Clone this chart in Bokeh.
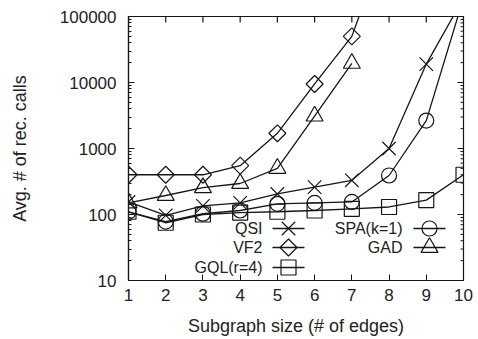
import math
import numpy as np
from bokeh.plotting import figure
from bokeh.models import Range1d, FixedTicker
from bokeh.embed import file_html
from bokeh.resources import INLINE
from bokeh.core.properties import value

# ---------------- data ----------------
sizes = [1, 2, 3, 4, 5, 6, 7, 8, 9, 10]
qsi = [155, 97, 135, 150, 205, 260, 330, 1000, 19000, 190000]
vf2 = [400, 400, 400, 550, 1700, 9500, 50000, 1800000, None, None]
gql = [110, 75, 100, 107, 110, 115, 122, 130, 165, 400]
spa = [110, 78, 103, 115, 145, 150, 155, 390, 2650, 190000]
gad = [150, 194, 255, 295, 500, 3100, 19500, None, None, None]

series_names = ["QSI", "VF2", "GQL(r=4)", "SPA(k=1)", "GAD"]
x_ticks = [1, 2, 3, 4, 5, 6, 7, 8, 9, 10]
y_ticks = [10, 100, 1000, 10000, 100000]
y_tick_labels = ["10", "100", "1000", "10000", "100000"]
x_label = "Subgraph size (# of edges)"
y_label = "Avg. # of rec. calls"

# ---------------- styling ----------------
FONT = "Liberation Sans"
INK = "#161616"
TXT = "#222222"
X0, X1 = 1, 10
Y0, Y1 = 10, 100000
FRAME_L, FRAME_R, FRAME_T, FRAME_B = 128, 463, 16, 280
W, H = 478, 339
MAJ, MIN = 6, 3

p = figure(width=W, height=H, y_axis_type="log",
           x_range=Range1d(X0, X1), y_range=Range1d(Y0, Y1),
           output_backend="svg", toolbar_location=None,
           min_border_left=FRAME_L, min_border_right=W - FRAME_R,
           min_border_top=FRAME_T, min_border_bottom=H - FRAME_B)
p.grid.visible = False
p.outline_line_color = INK
p.outline_line_width = 1.2
p.background_fill_color = "white"
p.border_fill_color = "white"

y_minor = [t * m for t in y_ticks[:-1] for m in range(2, 10)]


def style_axis(ax):
    ax.axis_line_color = INK
    ax.axis_line_width = 1.2
    ax.major_tick_line_color = INK
    ax.minor_tick_line_color = INK
    ax.major_tick_in = MAJ
    ax.major_tick_out = 0
    ax.minor_tick_in = MIN
    ax.minor_tick_out = 0
    ax.major_label_text_font = FONT
    ax.major_label_text_color = TXT
    ax.major_label_text_font_size = "17px"
    ax.axis_label_text_font = FONT
    ax.axis_label_text_color = TXT
    ax.axis_label_text_font_style = "normal"
    ax.axis_label_text_font_size = "18px"


# bottom x axis
xa = p.xaxis[0]
xa.ticker = FixedTicker(ticks=x_ticks, minor_ticks=[])
style_axis(xa)
xa.axis_label = x_label
xa.major_label_standoff = 8
xa.axis_label_standoff = 12

# left y axis
ya = p.yaxis[0]
ya.ticker = FixedTicker(ticks=y_ticks, minor_ticks=y_minor)
style_axis(ya)
ya.major_label_overrides = {t: s for t, s in zip(y_ticks, y_tick_labels)}
ya.axis_label = y_label
ya.major_label_standoff = 12
ya.axis_label_standoff = 27


def fx(px):
    return X0 + (px - FRAME_L) / (FRAME_R - FRAME_L) * (X1 - X0)


def fy(py):
    l0, l1 = math.log10(Y0), math.log10(Y1)
    return 10 ** (l0 + (FRAME_B - py) / (FRAME_B - FRAME_T) * (l1 - l0))


# mirrored (inward) ticks on the top and right edges, as gnuplot draws them
p.segment(x0=x_ticks, y0=[fy(FRAME_T)] * len(x_ticks),
          x1=x_ticks, y1=[fy(FRAME_T + MAJ)] * len(x_ticks),
          line_color=INK, line_width=1.2)
p.segment(x0=[fx(FRAME_R - MAJ)] * len(y_ticks), y0=y_ticks,
          x1=[fx(FRAME_R)] * len(y_ticks), y1=y_ticks,
          line_color=INK, line_width=1.2)
p.segment(x0=[fx(FRAME_R - MIN)] * len(y_minor), y0=y_minor,
          x1=[fx(FRAME_R)] * len(y_minor), y1=y_minor,
          line_color=INK, line_width=1.0)

# ---------------- series ----------------
marker_style = {
    "QSI": dict(marker="x", size=19, angle=0.0),
    "VF2": dict(marker="square", size=12, angle=math.pi / 4),
    "GQL(r=4)": dict(marker="square", size=15, angle=0.0),
    "SPA(k=1)": dict(marker="circle", size=15, angle=0.0),
    "GAD": dict(marker="triangle", size=17, angle=0.0),
}
series_values = [qsi, vf2, gql, spa, gad]

for name, vals in zip(series_names, series_values):
    arr = np.array([np.nan if v is None else v for v in vals], dtype=float)
    p.line(sizes, arr, line_color=INK, line_width=1.3)
    st = marker_style[name]
    p.scatter(sizes, arr, marker=st["marker"], size=st["size"], angle=st["angle"],
              fill_color=None, line_color=INK, line_width=1.2)

# ---------------- legend (gnuplot style: text, then sample) ----------------
# (name, text right edge px, sample centre px, row centre px)
legend_layout = [
    ("QSI", 262, 288, 228),
    ("VF2", 262, 288, 247),
    ("GQL(r=4)", 262, 288, 267),
    ("SPA(k=1)", 402, 429, 228),
    ("GAD", 402, 429, 247),
]
HALF = 16
for name, tx, sx, ry in legend_layout:
    p.text(x=[fx(tx)], y=[fy(ry)], text=[name], text_align="right",
           text_baseline="middle", text_font=value(FONT),
           text_font_size="16px", text_color=TXT)
    p.segment(x0=[fx(sx - HALF)], y0=[fy(ry)], x1=[fx(sx + HALF)], y1=[fy(ry)],
              line_color=INK, line_width=1.3)
    st = marker_style[name]
    p.scatter(x=[fx(sx)], y=[fy(ry)], marker=st["marker"], size=st["size"],
              angle=st["angle"], fill_color=None, line_color=INK, line_width=1.2)

open("out.html", "w").write(file_html(p, INLINE))
